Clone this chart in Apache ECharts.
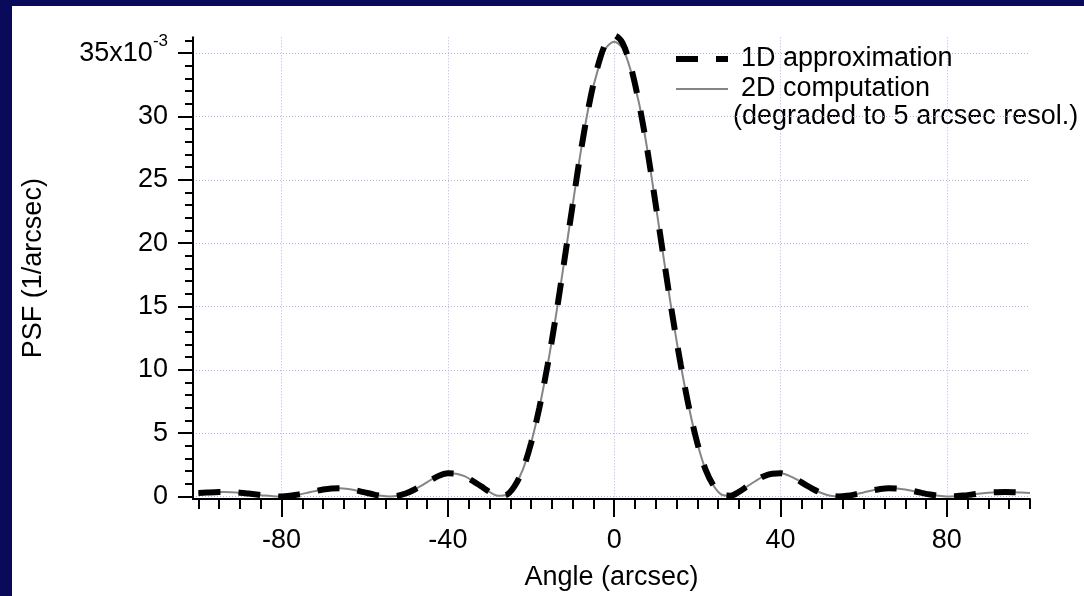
<!DOCTYPE html>
<html>
<head>
<meta charset="utf-8">
<script src="https://cdn.jsdelivr.net/npm/echarts@6/dist/echarts.min.js"></script>
<style>
html,body{margin:0;padding:0;width:1084px;height:596px;background:#0a0a5a;overflow:hidden;}
#chart{position:absolute;left:12px;top:6px;width:1072px;height:590px;background:#ffffff;}
</style>
</head>
<body>
<div id="chart"></div>
<script>
// Angle (arcsec)
const angles = [-100,-98,-96,-94,-92,-90,-88,-86,-84,-82,-80,-78,-76,-74,-72,-70,-68,-66,-64,-62,-60,-58,-56,-54,-52,-50,-48,-46,-44,-42,-40,-38,-36,-34,-32,-30,-28,-26,-24,-22,-20,-18,-16,-14,-12,-10,-8,-6,-4,-2,0,2,4,6,8,10,12,14,16,18,20,22,24,26,28,30,32,34,36,38,40,42,44,46,48,50,52,54,56,58,60,62,64,66,68,70,72,74,76,78,80,82,84,86,88,90,92,94,96,98,100];
// PSF (x10^-3 1/arcsec), 1D approximation
const oneD = [0.28,0.31,0.34,0.35,0.34,0.30,0.23,0.15,0.07,0.02,0.0,0.05,0.15,0.28,0.42,0.55,0.63,0.65,0.59,0.47,0.32,0.17,0.05,0.0,0.06,0.25,0.55,0.92,1.32,1.65,1.83,1.80,1.60,1.22,0.80,0.36,0.06,0.12,0.8,2.1,4.2,7.0,10.4,14.3,18.6,23.0,27.3,31.0,33.9,35.8,36.4,35.8,33.9,31.0,27.3,23.0,18.6,14.3,10.4,7.0,4.2,2.1,0.8,0.12,0.06,0.36,0.80,1.22,1.60,1.80,1.83,1.65,1.32,0.92,0.55,0.25,0.06,0.0,0.05,0.17,0.32,0.47,0.59,0.65,0.63,0.55,0.42,0.28,0.15,0.05,0.0,0.02,0.07,0.15,0.23,0.30,0.34,0.35,0.34,0.31,0.28];
// PSF (x10^-3 1/arcsec), 2D computation
const twoD = [0.28,0.31,0.34,0.35,0.34,0.30,0.23,0.15,0.07,0.02,0.0,0.05,0.15,0.28,0.42,0.55,0.63,0.65,0.59,0.47,0.32,0.17,0.05,0.0,0.06,0.25,0.55,0.92,1.32,1.65,1.83,1.80,1.60,1.22,0.80,0.36,0.06,0.12,0.8,2.1,4.2,7.0,10.4,14.3,18.6,23.0,27.3,31.0,33.6,35.4,35.9,35.4,33.6,31.0,27.3,23.0,18.6,14.3,10.4,7.0,4.2,2.1,0.8,0.12,0.06,0.36,0.80,1.22,1.60,1.80,1.83,1.65,1.32,0.92,0.55,0.25,0.06,0.0,0.05,0.17,0.32,0.47,0.59,0.65,0.63,0.55,0.42,0.28,0.15,0.05,0.0,0.02,0.07,0.15,0.23,0.30,0.34,0.35,0.34,0.31,0.28];
// tick labels
const xMajor = [-80,-40,0,40,80];
const xMinor = [-100,-95,-90,-85,-80,-75,-70,-65,-60,-55,-50,-45,-40,-35,-30,-25,-20,-15,-10,-5,0,5,10,15,20,25,30,35,40,45,50,55,60,65,70,75,80,85,90,95,100];
const yMajor = [0,5,10,15,20,25,30,35];
const yMinor = [0,1,2,3,4,5,6,7,8,9,10,11,12,13,14,15,16,17,18,19,20,21,22,23,24,25,26,27,28,29,30,31,32,33,34,35,36];
const seriesNames = ['1D approximation','2D computation'];
const legendNote = '(degraded to 5 arcsec resol.)';
const xTitle = 'Angle (arcsec)';
const yTitle = 'PSF (1/arcsec)';

const FONT = 'Liberation Sans';
const FS = 27;
const chart = echarts.init(document.getElementById('chart'), null, {renderer:'canvas'});
const xMin = -101.3, xMax = 100, yMin = -0.2, yMax = 36.25;
const gridLine = {show:true, lineStyle:{color:'#b4b4ee', width:1, type:[1,2]}};
const hiddenSym = {color:'rgba(0,0,0,0)', borderColor:'rgba(0,0,0,0)', borderWidth:0};

const option = {
  animation:false,
  textStyle:{fontFamily:FONT},
  grid:{left:171, right:54, top:31.3, bottom:91, containLabel:false},
  legend:{
    data:[
      {name:seriesNames[0], itemStyle:hiddenSym, lineStyle:{color:'#000', width:6, type:[22,18], cap:'butt'}},
      {name:seriesNames[1], itemStyle:hiddenSym, lineStyle:{color:'#858585', width:2, type:'solid'}}
    ],
    orient:'vertical', left:656, top:33,
    itemWidth:52, itemHeight:14, itemGap:0,
    textStyle:{fontFamily:FONT, fontSize:FS, color:'#000', lineHeight:30, padding:[0,0,0,8]}
  },
  graphic:[{type:'text', x:721, y:111, style:{text:legendNote, font:FS + 'px "Liberation Sans"', fill:'#000', verticalAlign:'middle', align:'left'}}],
  xAxis:[{
    type:'value', min:xMin, max:xMax, position:'bottom',
    name:xTitle, nameLocation:'middle', nameGap:65,
    nameTextStyle:{fontFamily:FONT, fontSize:FS, color:'#000'},
    axisLine:{show:true, onZero:false, lineStyle:{color:'#000', width:2}},
    axisTick:{show:true, customValues:xMajor, length:18, lineStyle:{color:'#000', width:2}},
    axisLabel:{customValues:xMajor, fontFamily:FONT, fontSize:FS, color:'#000', margin:28},
    splitLine:Object.assign({customValues:xMajor}, gridLine)
  },{
    type:'value', min:xMin, max:xMax, position:'bottom',
    axisLine:{show:false, onZero:false},
    axisTick:{show:true, customValues:xMinor, length:10, lineStyle:{color:'#000', width:2}},
    axisLabel:{show:false}, splitLine:{show:false}
  }],
  yAxis:[{
    type:'value', min:yMin, max:yMax, position:'left',
    name:yTitle, nameLocation:'middle', nameGap:146, nameRotate:90,
    nameTextStyle:{fontFamily:FONT, fontSize:FS, color:'#000'},
    axisLine:{show:true, onZero:false, lineStyle:{color:'#000', width:2}},
    axisTick:{show:true, customValues:yMajor, length:15, lineStyle:{color:'#000', width:2}},
    axisLabel:{
      customValues:yMajor, fontFamily:FONT, fontSize:FS, color:'#000', margin:25,
      formatter:function(v){ return v === 35 ? '{b|35x10}{s|-3}' : '{b|' + v + '}'; },
      rich:{
        b:{fontFamily:FONT, fontSize:FS, color:'#000', lineHeight:40},
        s:{fontFamily:FONT, fontSize:17, color:'#000', lineHeight:18, verticalAlign:'top'}
      }
    },
    splitLine:Object.assign({customValues:yMajor}, gridLine)
  },{
    type:'value', min:yMin, max:yMax, position:'left',
    axisLine:{show:false, onZero:false},
    axisTick:{show:true, customValues:yMinor, length:8, lineStyle:{color:'#000', width:2}},
    axisLabel:{show:false}, splitLine:{show:false}
  }],
  series:[{
    name:seriesNames[0], type:'line', xAxisIndex:0, yAxisIndex:0,
    data:angles.map(function(a,i){return [a, oneD[i]];}),
    symbol:'none', showSymbol:false, smooth:0.3, clip:false, z:3,
    lineStyle:{color:'#000', width:6, type:[22,18], cap:'butt'},
    itemStyle:{color:'#000'}
  },{
    name:seriesNames[1], type:'line', xAxisIndex:0, yAxisIndex:0,
    data:angles.map(function(a,i){return [a, twoD[i]];}),
    symbol:'none', showSymbol:false, smooth:0.3, clip:false, z:2,
    lineStyle:{color:'#858585', width:2},
    itemStyle:{color:'#858585'}
  }]
};
chart.setOption(option);
</script>
</body>
</html>
